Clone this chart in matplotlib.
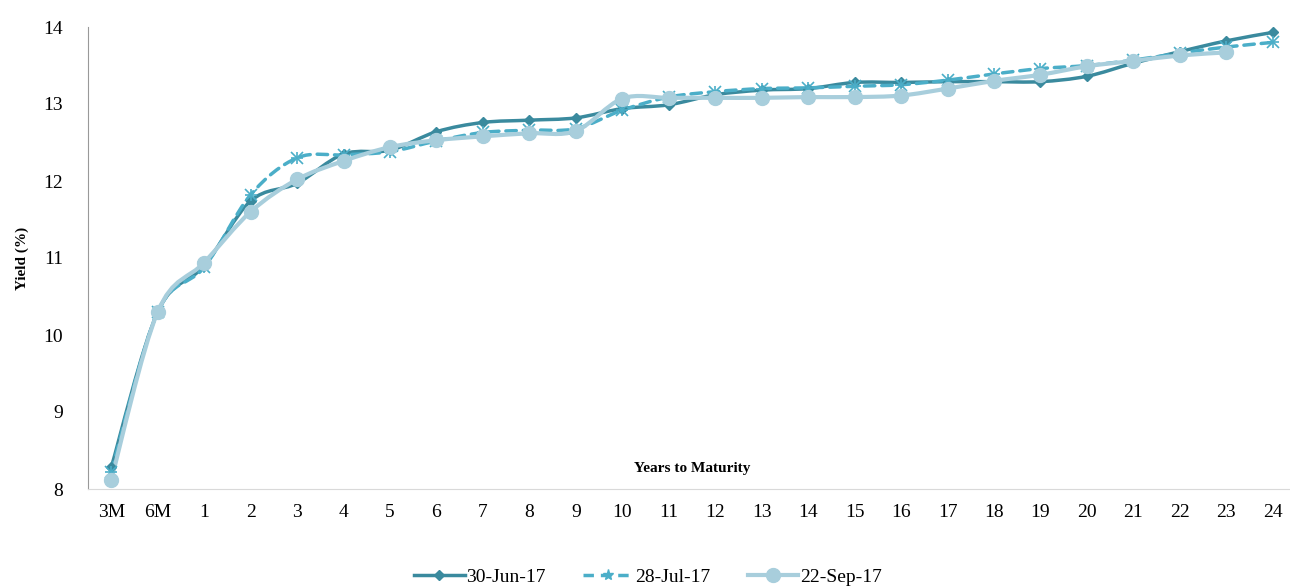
import matplotlib.pyplot as plt
from matplotlib.path import Path
from matplotlib.patches import PathPatch
from matplotlib.lines import Line2D

plt.rcParams['font.family'] = ['Liberation Serif', 'DejaVu Serif']

tenors = ["3M", "6M", "1", "2", "3", "4", "5", "6", "7", "8", "9", "10", "11", "12",
          "13", "14", "15", "16", "17", "18", "19", "20", "21", "22", "23", "24"]

jun30 = [8.28, 10.30, 10.90, 11.74, 11.97, 12.35, 12.40, 12.64, 12.76, 12.79, 12.82,
         12.94, 12.99, 13.12, 13.18, 13.20, 13.28, 13.28, 13.29, 13.29, 13.29, 13.36,
         13.53, 13.68, 13.82, 13.93]
jul28 = [8.22, 10.30, 10.88, 11.82, 12.30, 12.34, 12.38, 12.52, 12.63, 12.66, 12.68,
         12.92, 13.09, 13.16, 13.20, 13.21, 13.23, 13.25, 13.31, 13.39, 13.46, 13.50,
         13.57, 13.66, 13.74, 13.80]
sep22 = [8.12, 10.30, 10.94, 11.60, 12.02, 12.26, 12.44, 12.53, 12.58, 12.62, 12.65,
         13.07, 13.08, 13.08, 13.08, 13.09, 13.09, 13.11, 13.20, 13.30, 13.38, 13.49,
         13.56, 13.63, 13.67]

c_jun = '#3A8A9E'
c_jul = '#4BAEC8'
c_sep = '#A8CEDC'


def smooth_path(xs, ys, k=1/6):
    # Excel-style smoothed line: cubic bezier segments through every point
    n = len(xs)
    verts = [(xs[0], ys[0])]
    codes = [Path.MOVETO]
    for i in range(n - 1):
        x0, y0 = xs[max(i - 1, 0)], ys[max(i - 1, 0)]
        x1, y1 = xs[i], ys[i]
        x2, y2 = xs[i + 1], ys[i + 1]
        x3, y3 = xs[min(i + 2, n - 1)], ys[min(i + 2, n - 1)]
        verts += [(x1 + (x2 - x0) * k, y1 + (y2 - y0) * k),
                  (x2 - (x3 - x1) * k, y2 - (y3 - y1) * k),
                  (x2, y2)]
        codes += [Path.CURVE4] * 3
    return Path(verts, codes)


fig = plt.figure(figsize=(12.9, 5.86), dpi=100)
ax = fig.add_axes([88 / 1290, 1 - 489 / 586, (1296 - 88) / 1290, (489 - 27) / 586])

series = [
    (jun30, c_jun, '-', 'D', 5, 2.5, '30-Jun-17'),
    (jul28, c_jul, (0, (3, 2)), 'x', 8, 2.5, '28-Jul-17'),
    (sep22, c_sep, '-', 'o', 10, 3, '22-Sep-17'),
]
handles = []
for vals, col, ls, mk, ms, lw, lab in series:
    xs = list(range(len(vals)))
    ax.add_patch(PathPatch(smooth_path(xs, vals), fill=False, edgecolor=col,
                           linestyle=ls, linewidth=lw, capstyle='round'))
    if mk == 'x':
        ax.plot(xs, vals, linestyle='none', marker='x', ms=ms, mew=1.2, color=col)
        ax.plot(xs, vals, linestyle='none', marker='+', ms=ms, mew=1.2, color=col)
    else:
        ax.plot(xs, vals, linestyle='none', marker=mk, ms=ms, color=col)
    handles.append(Line2D([0], [0], color=col, linestyle=ls, linewidth=lw,
                          marker='*' if mk == 'x' else mk, ms=ms, label=lab))

ax.set_xlim(-0.5, len(tenors) - 0.5)
ax.set_ylim(8, 14)
ax.set_xticks(range(len(tenors)))
ax.set_xticklabels(tenors)
ax.set_yticks([8, 9, 10, 11, 12, 13, 14])
ax.tick_params(length=0, labelsize=14, pad=11)
ax.tick_params(axis='y', pad=18)
for s in ['top', 'right']:
    ax.spines[s].set_visible(False)
ax.spines['left'].set_color('#999999')
ax.spines['bottom'].set_color('#D9D9D9')

ax.text(12.5, 8.27, 'Years to Maturity', ha='center', va='center',
        fontsize=11, fontweight='bold')
fig.text(22 / 1290, 1 - 258 / 586, 'Yield (%)', rotation=90, ha='center', va='center',
         fontsize=11, fontweight='bold')

fig.legend(handles=handles, loc='center', bbox_to_anchor=(648 / 1290, 1 - 577 / 586),
           ncol=3, frameon=False, fontsize=14, handlelength=2.6, columnspacing=1.9,
           handletextpad=0.1)

fig.savefig('out.png', dpi=100)
